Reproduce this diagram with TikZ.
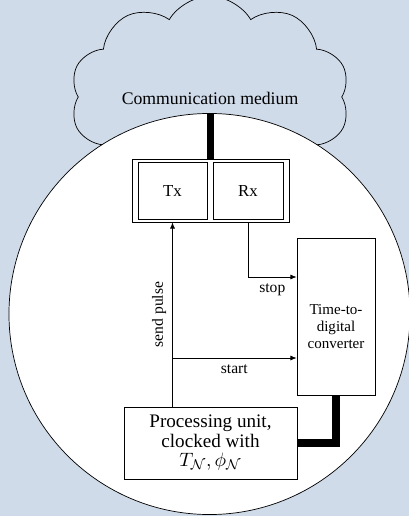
\documentclass[tikz,border=0pt]{standalone}
\usepackage{fontspec}
\setmainfont{Liberation Serif}
\usetikzlibrary{positioning,shapes.symbols,arrows.meta}
\definecolor{paleblue}{RGB}{208,219,234}
\tikzset{
  box/.style={draw, inner sep=0pt, align=center},
  bus/.style={line width=4.5pt},
  sig/.style={->, font=\fontsize{8.8}{10}\selectfont},
}
\tikzset{
	>={Latex[length=3.5pt,width=2.8pt]},
}

\begin{document}
\begin{tikzpicture}[x=0.565pt, y=-0.565pt]

\fill[paleblue] (0,0) rectangle (409,516);
\useasboundingbox (0,0) rectangle (409,516);

% medium and node bubble
\node[cloud, draw, fill=paleblue, cloud puffs=10, cloud puff arc=120, cloud ignores aspect, inner sep=0pt,
      minimum width=158pt, minimum height=114pt](medium) at (210,97) {};
\node(mediumtext) at (210,98) {Communication medium};
\node[circle, draw, fill=white, inner sep=0pt, minimum size=226.6pt](bubble) at (209.5,314) {};

\node[box, minimum width=88.7pt, minimum height=35.6pt](trx) at (210.5,190.5) {};
\node[box, minimum width=39pt, minimum height=31.9pt, font=\fontsize{9.5}{11}\selectfont](tx) at (172.5,190.8) {Tx};
\node[box, minimum width=39.5pt, minimum height=31.9pt, font=\fontsize{9.5}{11}\selectfont](rx) at (248,190.8) {Rx};
\node[box, minimum width=44.1pt, minimum height=88.7pt](tdc) at (336,316.5) {};
\node[align=center, font=\fontsize{8.5}{9.6}\selectfont](tdctext) at (336,327) {Time-to-\\digital\\converter};
\node[box, minimum width=97.7pt, minimum height=40.7pt, font=\fontsize{10.8}{11}\selectfont](pu) at (210.5,443)
  {Processing unit,\\clocked with\\$T_{\mathcal{N}}, \phi_{\mathcal{N}}$};

\coordinate(txin) at (tx.south |- trx.south);
\coordinate(split) at (172,358);

\draw[bus] (trx.north |- bubble.north) -- (trx.north);
\draw[bus] (pu.east) -| (tdc.south);

\draw[sig] (tx.south |- pu.north) -- node[midway, above, sloped]{send pulse} (txin);
\draw[sig] (split) -- node[midway, below]{start} (split -| tdc.west);
\draw[sig] (rx.south |- trx.south) |- node[pos=0.75, below]{stop} (tdc.west |- 0,277);

\end{tikzpicture}
\end{document}
